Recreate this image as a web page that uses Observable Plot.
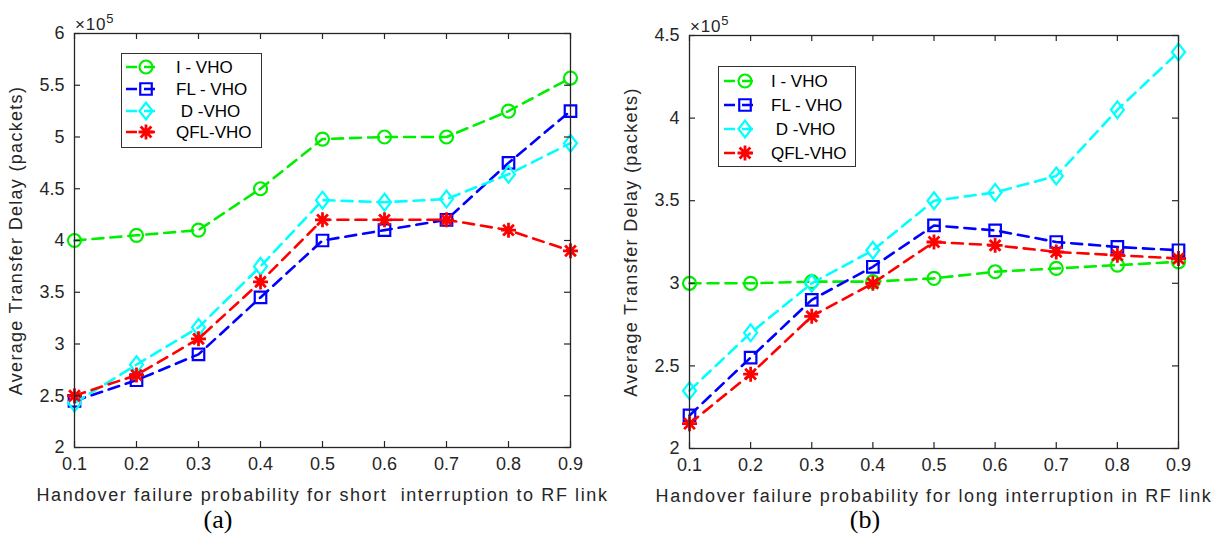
<!DOCTYPE html>
<html><head><meta charset="utf-8">
<script src="https://cdn.jsdelivr.net/npm/d3@7"></script>
<script src="https://cdn.jsdelivr.net/npm/@observablehq/plot@0.6"></script>
<style>
body{margin:0;background:#fff;}
#wrap{position:relative;width:1212px;height:537px;overflow:hidden;font-family:"Liberation Sans",Arial,sans-serif;}
.panel{position:absolute;top:0;}
.panel svg{overflow:visible;background:none!important;}
.panel svg text{font-family:"Liberation Sans",Arial,sans-serif !important;font-size:18px !important;}
.panel svg g[aria-label="x-axis label"] text{letter-spacing:1.6px;}
.panel svg g[aria-label="y-axis label"] text{letter-spacing:1.3px;}
.exp{position:absolute;font-size:17px;line-height:20px;color:#262626;white-space:nowrap;letter-spacing:0.8px;}
.exp sup{font-size:13px;}
.cap{position:absolute;font-family:"Liberation Serif","Times New Roman",serif;font-size:26px;line-height:1;color:#000;transform:translateX(-50%);}
.legend{position:absolute;}
</style>
</head><body>
<div id="wrap"></div>
<script>
// ---------- data ----------
const xValues = [0.1, 0.2, 0.3, 0.4, 0.5, 0.6, 0.7, 0.8, 0.9];
const seriesNames = ["I - VHO", "FL - VHO", " D -VHO", "QFL-VHO"];
const seriesColors = ["#00ee00", "#0000ff", "#00ffff", "#ff0000"];
const seriesSymbols = ["circle", "square", "diamond", "asterisk"];

// panel (a): values in units of 10^5 packets
const aIVHO  = [4.00, 4.05, 4.10, 4.50, 4.98, 5.00, 5.00, 5.25, 5.57];
const aFLVHO = [2.45, 2.65, 2.90, 3.45, 4.00, 4.10, 4.20, 4.75, 5.25];
const aDVHO  = [2.43, 2.80, 3.16, 3.75, 4.39, 4.37, 4.40, 4.64, 4.94];
const aQFL   = [2.50, 2.70, 3.05, 3.60, 4.20, 4.20, 4.20, 4.10, 3.90];

// panel (b)
const bIVHO  = [3.00, 3.00, 3.01, 3.01, 3.03, 3.07, 3.09, 3.11, 3.13];
const bFLVHO = [2.20, 2.55, 2.90, 3.10, 3.35, 3.32, 3.25, 3.22, 3.20];
const bDVHO  = [2.35, 2.70, 3.00, 3.20, 3.50, 3.55, 3.65, 4.05, 4.40];
const bQFL   = [2.15, 2.45, 2.80, 3.00, 3.25, 3.23, 3.19, 3.17, 3.15];

const aYTicks = [2, 2.5, 3, 3.5, 4, 4.5, 5, 5.5, 6];
const bYTicks = [2, 2.5, 3, 3.5, 4, 4.5];
const xLabelA = "Handover failure probability for short  interruption to RF link";
const xLabelB = "Handover failure probability for long interruption in RF link";
const yLabel = "Average Transfer Delay (packets)";

// ---------- MATLAB-like marker shapes ----------
const symDiamond = {draw(ctx, size) {
  const r = Math.sqrt(size / Math.PI), h = r * 1.3, w = r * 1.0;
  ctx.moveTo(0, -h); ctx.lineTo(w, 0); ctx.lineTo(0, h); ctx.lineTo(-w, 0); ctx.closePath();
}};
const symStar = {draw(ctx, size) {
  const r = Math.sqrt(size / Math.PI), d = r * 0.72;
  ctx.moveTo(-r, 0); ctx.lineTo(r, 0); ctx.moveTo(0, -r); ctx.lineTo(0, r);
  ctx.moveTo(-d, -d); ctx.lineTo(d, d); ctx.moveTo(-d, d); ctx.lineTo(d, -d);
}};
const symMap = {circle: d3.symbolCircle, square: d3.symbolSquare, diamond: symDiamond, asterisk: symStar};

const wrap = document.getElementById("wrap");
const axisColor = "#262626";

function rows(arrs) {
  const out = [];
  arrs.forEach((arr, si) => arr.forEach((v, i) => out.push({s: si, x: xValues[i], y: v})));
  return out;
}

function makePanel(opt) {
  const data = rows(opt.series);
  const W = 606, H = 537;
  const fw = W - opt.ml - opt.mr, fh = H - opt.mt - opt.mb;
  const marks = [];
  seriesNames.forEach((name, si) => {
    const d = data.filter(r => r.s === si);
    marks.push(Plot.line(d, {x: "x", y: "y", stroke: seriesColors[si], strokeWidth: 2.6, strokeDasharray: "11,7"}));
    marks.push(Plot.dot(d, {x: "x", y: "y", symbol: symMap[seriesSymbols[si]], r: si === 3 ? 7.5 : 6.5,
      stroke: seriesColors[si], strokeWidth: si === 3 ? 2.8 : 2.2, fill: "none"}));
  });
  // inward ticks
  const tk = 6;
  marks.push(Plot.tickX(xValues, {x: d => d, insetTop: fh - tk, stroke: axisColor, strokeWidth: 1.2}));
  marks.push(Plot.tickX(xValues, {x: d => d, insetBottom: fh - tk, stroke: axisColor, strokeWidth: 1.2}));
  marks.push(Plot.tickY(opt.yTicks, {y: d => d, insetRight: fw - tk, stroke: axisColor, strokeWidth: 1.2}));
  marks.push(Plot.tickY(opt.yTicks, {y: d => d, insetLeft: fw - tk, stroke: axisColor, strokeWidth: 1.2}));
  marks.push(Plot.frame({stroke: axisColor, strokeWidth: 1.3}));
  marks.push(Plot.axisX(xValues, {tickSize: 0, tickPadding: 10, tickFormat: d => String(d), fontSize: 18, color: axisColor,
    label: opt.xLabel, labelAnchor: "center", labelOffset: 53, labelArrow: "none"}));
  marks.push(Plot.axisY(opt.yTicks, {tickSize: 0, tickPadding: 10, tickFormat: d => String(d), fontSize: 18, color: axisColor,
    label: yLabel, labelAnchor: "center", labelOffset: opt.ylo, labelArrow: "none"}));

  const svg = Plot.plot({
    width: W, height: H,
    marginLeft: opt.ml, marginRight: opt.mr, marginTop: opt.mt, marginBottom: opt.mb,
    x: {domain: [0.1, 0.9]},
    y: {domain: opt.yDomain},
    style: {fontFamily: '"Liberation Sans", Arial, sans-serif', fontSize: "18px", color: axisColor, background: "none", overflow: "visible"},
    marks
  });
  const div = document.createElement("div");
  div.className = "panel";
  div.style.left = opt.left + "px";
  div.appendChild(svg);
  wrap.appendChild(div);

  // exponent label
  const ex = document.createElement("div");
  ex.className = "exp";
  ex.innerHTML = "&times;10<sup>5</sup>";
  ex.style.left = (opt.left + opt.ml + 1) + "px";
  ex.style.top = (opt.mt - 24) + "px";
  wrap.appendChild(ex);

  // caption
  const cap = document.createElement("div");
  cap.className = "cap";
  cap.textContent = opt.caption;
  cap.style.left = opt.capX + "px";
  cap.style.top = "507px";
  wrap.appendChild(cap);

  // legend
  const L = opt.legend;
  const lg = d3.create("svg").attr("class", "legend").attr("width", L.w).attr("height", L.h)
    .style("left", L.x + "px").style("top", L.y + "px");
  lg.append("rect").attr("x", 0.5).attr("y", 0.5).attr("width", L.w - 1).attr("height", L.h - 1)
    .attr("fill", "#fff").attr("stroke", "#333").attr("stroke-width", 1);
  seriesNames.forEach((name, si) => {
    const y = L.rows[si];
    const g = lg.append("g");
    g.append("line").attr("x1", L.lx1).attr("x2", L.lx2).attr("y1", y).attr("y2", y)
      .attr("stroke", seriesColors[si]).attr("stroke-width", 2.6).attr("stroke-dasharray", "11,7");
    const r = si === 3 ? 7.5 : 6.5;
    g.append("path").attr("transform", `translate(${L.mx},${y})`)
      .attr("d", d3.symbol(symMap[seriesSymbols[si]], Math.PI * r * r)())
      .attr("fill", "none").attr("stroke", seriesColors[si]).attr("stroke-width", si === 3 ? 2.8 : 2.2);
    g.append("text").attr("x", L.tx).attr("y", y).attr("dy", "0.35em")
      .attr("font-family", '"Liberation Sans", Arial, sans-serif').attr("font-size", 17)
      .attr("fill", "#000").attr("xml:space", "preserve").style("white-space", "pre").text(name);
  });
  wrap.appendChild(lg.node());
}

makePanel({
  series: [aIVHO, aFLVHO, aDVHO, aQFL], yDomain: [2, 6], yTicks: aYTicks,
  left: 0, ml: 74, mr: 36, mt: 33, mb: 90, ylo: 65, xLabel: xLabelA,
  caption: "(a)", capX: 218,
  legend: {x: 121, y: 53, w: 141, h: 95, rows: [14, 36, 58, 79], lx1: 5, lx2: 41, mx: 25, tx: 55}
});
makePanel({
  series: [bIVHO, bFLVHO, bDVHO, bQFL], yDomain: [2, 4.5], yTicks: bYTicks,
  left: 606, ml: 83, mr: 34, mt: 35, mb: 89, ylo: 65, xLabel: xLabelB,
  caption: "(b)", capX: 865,
  legend: {x: 718, y: 66, w: 138, h: 101, rows: [15, 39, 63, 87], lx1: 6, lx2: 40, mx: 27, tx: 53}
});
</script>
</body></html>
